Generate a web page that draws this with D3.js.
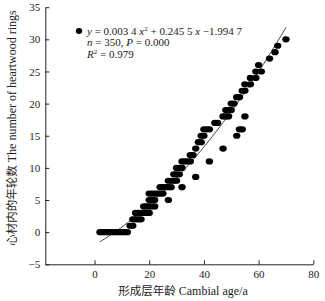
<!DOCTYPE html>
<html>
<head>
<meta charset="utf-8">
<script src="https://cdn.jsdelivr.net/npm/d3@7"></script>
<style>
  body { margin: 0; background: #fff; }
  svg { display: block; }
  .axis text { font-family: serif; font-size: 11px; fill: #222; }
  .axis path, .axis line { stroke: #222; stroke-width: 1; }
  .title { font-family: serif; font-size: 12px; fill: #222; }
  .cjk { font-family: "Noto Sans CJK SC", sans-serif; font-size: 11.5px; }
  .note { font-family: serif; font-size: 11px; fill: #222; }
</style>
</head>
<body>
<svg id="chart" width="325" height="301"></svg>
<script>
// cambial age (x) and heartwood ring count (y)
const ages = [
  2, 3, 4, 5, 6, 7, 8, 9, 10, 11, 12,
  13, 14,
  14, 15, 16, 17,
  15, 16, 17, 18, 19, 20,
  18, 19, 20, 21, 22,
  20, 21, 22, 27,
  20, 21, 22, 23, 24, 25,
  24, 25, 26, 27, 28, 32,
  27, 28, 29, 30, 37,
  29, 30, 31,
  30, 31, 32,
  32, 33, 34, 35, 42,
  35, 36,
  37, 47,
  38, 39,
  39, 40, 52,
  40, 41, 42, 53, 54,
  44, 45,
  47, 48, 49, 55,
  48, 49, 50,
  50, 51,
  52, 53,
  54, 55,
  55, 57,
  57, 59,
  59, 61,
  60, 64, 66, 67, 70
];
const rings = [
  0, 0, 0, 0, 0, 0, 0, 0, 0, 0, 0,
  1, 1,
  2, 2, 2, 2,
  3, 3, 3, 3, 3, 3,
  4, 4, 4, 4, 4,
  5, 5, 5, 5,
  6, 6, 6, 6, 6, 6,
  7, 7, 7, 7, 7, 7,
  8, 8, 8, 8, 8.6,
  9, 9, 9,
  10, 10, 10,
  11, 11, 11, 11, 11,
  12, 12,
  13, 13,
  14, 14,
  15, 15, 15,
  16, 16, 16, 16, 16,
  17, 17,
  18, 18, 18, 18,
  19, 19, 19,
  20, 20,
  21, 21,
  22, 22,
  23, 23,
  24, 24,
  25, 25,
  26, 27, 28, 29, 30
];
const fitCoef = [0.0034, 0.2455, -1.9947]; // y = a x^2 + b x + c
const fitRange = [2, 70];
const xTicks = [0, 20, 40, 60, 80];
const yTicks = [-5, 0, 5, 10, 15, 20, 25, 30, 35];

const svg = d3.select("#chart");
const x = d3.scaleLinear().domain([-18, 80]).range([45.3, 313.3]);
const y = d3.scaleLinear().domain([-5, 35]).range([264.3, 7.2]);

svg.append("g").attr("class", "axis")
  .attr("transform", `translate(0,${y(-5)})`)
  .call(d3.axisBottom(x).tickValues(xTicks).tickSizeInner(-4).tickSizeOuter(0).tickPadding(6));

svg.append("g").attr("class", "axis")
  .attr("transform", `translate(${x(-18)},0)`)
  .call(d3.axisLeft(y).tickValues(yTicks).tickSizeInner(-4).tickSizeOuter(0).tickPadding(5)
    .tickFormat(d => d < 0 ? "\u2212" + Math.abs(d) : d));

svg.selectAll(".axis").attr("font-family", null);

// fitted curve
const fit = v => fitCoef[0] * v * v + fitCoef[1] * v + fitCoef[2];
const xs = d3.range(fitRange[0], fitRange[1] + 0.01, 0.5);
svg.append("path")
  .attr("d", d3.line().x(d => x(d)).y(d => y(fit(d)))(xs))
  .attr("fill", "none").attr("stroke", "#111").attr("stroke-width", 0.8);

// points
svg.append("g").selectAll("ellipse")
  .data(ages.map((a, i) => [a, rings[i]]))
  .join("ellipse")
  .attr("cx", d => x(d[0])).attr("cy", d => y(d[1]))
  .attr("rx", 3.7).attr("ry", 3.1)
  .attr("fill", "#000");

// legend / equation
svg.append("ellipse").attr("cx", 79).attr("cy", 31).attr("rx", 3.2).attr("ry", 3).attr("fill", "#000");
const eq = svg.append("text").attr("class", "note").attr("x", 87).attr("y", 34.5);
eq.append("tspan").attr("font-style", "italic").text("y");
eq.append("tspan").text(" = 0.003 4 ");
eq.append("tspan").attr("font-style", "italic").text("x");
eq.append("tspan").attr("font-size", "7px").attr("dy", -4).text("2");
eq.append("tspan").attr("dy", 4).text(" + 0.245 5 ");
eq.append("tspan").attr("font-style", "italic").text("x");
eq.append("tspan").text(" \u22121.994 7");

const l2 = svg.append("text").attr("class", "note").attr("x", 87).attr("y", 46);
l2.append("tspan").attr("font-style", "italic").text("n");
l2.append("tspan").text(" = 350, ");
l2.append("tspan").attr("font-style", "italic").text("P");
l2.append("tspan").text(" = 0.000");

const l3 = svg.append("text").attr("class", "note").attr("x", 87).attr("y", 57.5);
l3.append("tspan").attr("font-style", "italic").text("R");
l3.append("tspan").attr("font-size", "7px").attr("dy", -4).text("2");
l3.append("tspan").attr("dy", 4).text(" = 0.979");

// axis titles
const xt = svg.append("text").attr("class", "title")
  .attr("x", 183).attr("y", 295).attr("text-anchor", "middle");
xt.append("tspan").attr("class", "cjk").text("形成层年龄");
xt.append("tspan").text(" Cambial age/a");

const yt = svg.append("text").attr("class", "title")
  .attr("transform", "translate(16,128) rotate(-90)")
  .attr("text-anchor", "middle");
yt.append("tspan").attr("class", "cjk").text("心材内的年轮数");
yt.append("tspan").text("  The number of heartwood rings");
</script>
</body>
</html>
